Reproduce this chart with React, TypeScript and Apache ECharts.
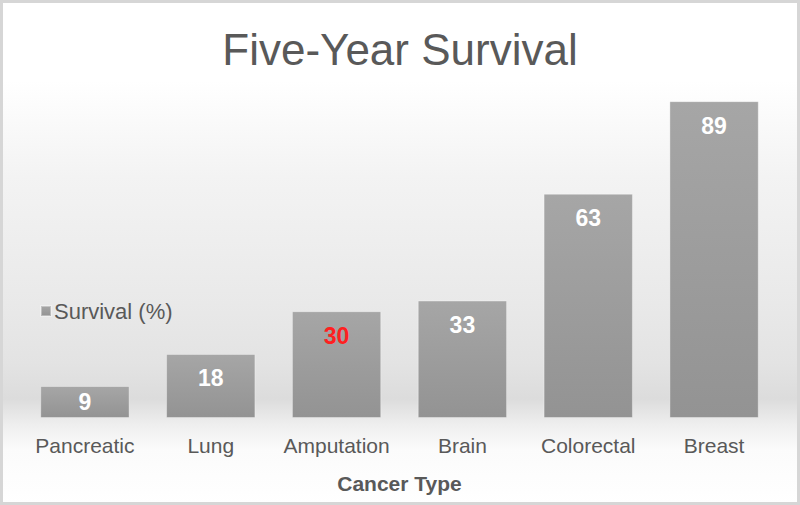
import React, { useEffect, useRef } from "react";
import * as echarts from "echarts";

const categories = ["Pancreatic", "Lung", "Amputation", "Brain", "Colorectal", "Breast"];
const survival = [9, 18, 30, 33, 63, 89];
const labelColors = ["#ffffff", "#ffffff", "#ff2020", "#ffffff", "#ffffff", "#ffffff"];

export default function App() {
  const ref = useRef<HTMLDivElement>(null);
  useEffect(() => {
    document.body.style.margin = "0";
    const chart = echarts.init(ref.current!, null, { renderer: "svg" });
    const font = "Liberation Sans, Arial, sans-serif";
    chart.setOption({
      animation: false,
      backgroundColor: {
        type: "linear", x: 0, y: 0, x2: 0, y2: 1,
        colorStops: [
          { offset: 0, color: "#ffffff" },
          { offset: 0.16, color: "#ffffff" },
          { offset: 0.35, color: "#f3f3f3" },
          { offset: 0.6, color: "#e9e9e9" },
          { offset: 0.72, color: "#e3e3e3" },
          { offset: 0.79, color: "#dcdcdc" },
          { offset: 0.84, color: "#eeeeee" },
          { offset: 0.89, color: "#fbfbfb" },
          { offset: 1, color: "#ffffff" },
        ],
      },
      title: {
        text: "Five-Year Survival",
        left: "center",
        top: 22,
        textStyle: { fontFamily: font, fontSize: 44, fontWeight: "normal", color: "#595959" },
      },
      legend: {
        left: 35,
        top: 295,
        icon: "rect",
        itemWidth: 10,
        itemHeight: 10,
        itemGap: 4,
        textStyle: { fontFamily: font, fontSize: 22, color: "#595959", padding: [0, 0, 0, -2] },
        data: ["Survival (%)"],
      },
      grid: { left: 22, right: 23, top: 62, bottom: 87 },
      xAxis: {
        type: "category",
        data: categories,
        axisLine: { show: false },
        axisTick: { show: false },
        axisLabel: { interval: 0, fontFamily: font, fontSize: 21, color: "#595959", margin: 17 },
        name: "Cancer Type",
        nameLocation: "middle",
        nameGap: 55,
        nameTextStyle: { fontFamily: font, fontSize: 21, fontWeight: "bold", color: "#595959" },
      },
      yAxis: { type: "value", min: 0, max: 100, show: false, splitLine: { show: false } },
      series: [
        {
          name: "Survival (%)",
          type: "bar",
          barWidth: "71%",
          itemStyle: {
            color: {
              type: "linear", x: 0, y: 0, x2: 0, y2: 1,
              colorStops: [
                { offset: 0, color: "#a6a6a6" },
                { offset: 1, color: "#939393" },
              ],
            },
            borderColor: "rgba(255,255,255,0.35)",
            borderWidth: 1,
          },
          data: survival.map((v, i) => ({
            value: v,
            label: {
              show: true,
              position: i === 0 ? "inside" : "insideTop",
              distance: 13,
              fontFamily: font,
              fontSize: 23,
              fontWeight: "bold",
              color: labelColors[i],
            },
          })),
        },
      ],
      graphic: [
        {
          type: "rect",
          shape: { x: 1.5, y: 1.5, width: 797, height: 502 },
          style: { fill: "none", stroke: "#d6d6d6", lineWidth: 3 },
          z: 100,
          silent: true,
        },
      ],
    });
    return () => chart.dispose();
  }, []);
  return <div ref={ref} style={{ position: "absolute", left: 0, top: 0, width: 800, height: 505 }} />;
}
